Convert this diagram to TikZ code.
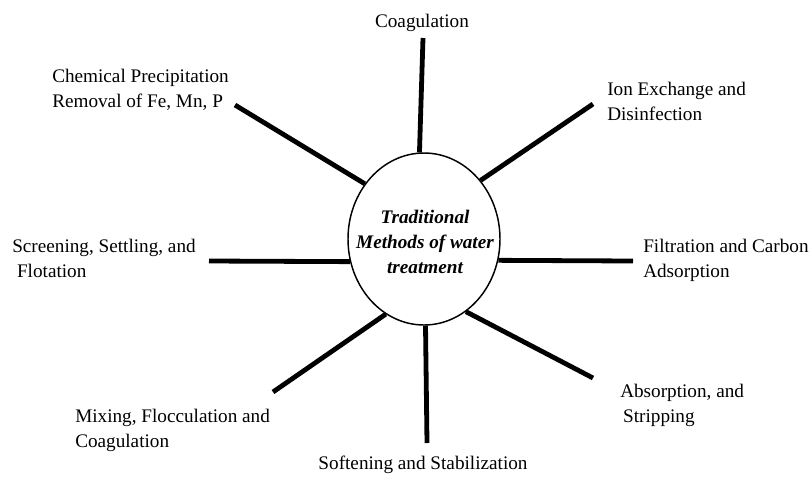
\documentclass[tikz,border=0pt]{standalone}
\usepackage{fontspec}
\setmainfont{Liberation Serif}
\usetikzlibrary{shapes.geometric}

\begin{document}
\begin{tikzpicture}[
  x=0.75pt, y=-0.75pt,
  hub/.style={ellipse, draw, line width=1.1pt, minimum width=114pt, minimum height=129pt, inner sep=0pt},
  item/.style={inner sep=0pt, align=left, font=\fontsize{14.4}{18.75}\selectfont},
  spoke/.style={line width=3.6pt}
]
\useasboundingbox (0,0) rectangle (811,476);

% centre
\node[hub] (hub) at (424,239) {};
\node[item, align=center, font=\fontsize{14.4}{18.75}\selectfont\bfseries\itshape] (title) at (425,242) {Traditional\\Methods of water\\treatment};

% outer ends of the spokes
\coordinate (e1) at (423,38);
\coordinate (e2) at (593,104);
\coordinate (e3) at (633,261);
\coordinate (e4) at (593,378);
\coordinate (e5) at (427,443);
\coordinate (e6) at (273,392);
\coordinate (e7) at (209,261);
\coordinate (e8) at (235,105);

% labels (base = last line)
\node[item, anchor=base] (coag) at (422,27) {Coagulation};
\node[item, anchor=base west] (ion) at (607,120) {Ion Exchange and\\Disinfection};
\node[item, anchor=base west] (filt) at (643,277) {Filtration and Carbon\\Adsorption};
\node[item, anchor=base west] (absb) at (620,422) {Absorption, and\\\hspace*{2.2pt}Stripping};
\node[item, anchor=base] (soft) at (423,469) {Softening and Stabilization};
\node[item, anchor=base west] (mix) at (75,447) {Mixing, Flocculation and\\Coagulation};
\node[item, anchor=base west] (screen) at (12,277) {Screening, Settling, and\\\hspace*{3.6pt}Flotation};
\node[item, anchor=base west] (chem) at (52,107) {Chemical Precipitation\\Removal of Fe, Mn, P};

% spokes
\draw[spoke] (hub.93) -- (e1);
\draw[spoke] (hub.46) -- (e2);
\draw[spoke] (hub.344) -- (e3);
\draw[spoke] (hub.300) -- (e4);
\draw[spoke] (hub.271) -- (e5);
\draw[spoke] (hub.243) -- (e6);
\draw[spoke] (hub.197) -- (e7);
\draw[spoke] (hub.137) -- (e8);

\end{tikzpicture}
\end{document}
